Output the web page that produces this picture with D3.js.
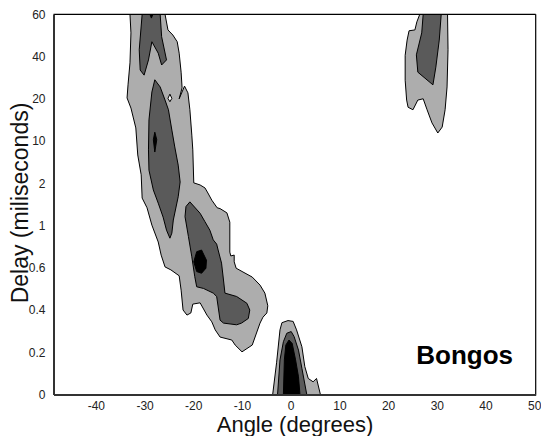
<!DOCTYPE html>
<html>
<head>
<meta charset="utf-8">
<script src="https://cdn.jsdelivr.net/npm/d3@7/dist/d3.min.js"></script>
<style>
  html, body { margin: 0; padding: 0; background: #fff; }
  svg { display: block; font-family: "Liberation Sans", Arial, Helvetica, sans-serif; }
</style>
</head>
<body>
<svg id="chart" width="541" height="436"></svg>
<script>
// Delay axis is categorical: one evenly spaced row per delay value (ms)
const delayLabels = ["0", "0.2", "0.4", "0.6", "1", "2", "10", "20", "40", "60"];
const angleTicks = [-40, -30, -20, -10, 0, 10, 20, 30, 40, 50];

// Contour outlines, points are [angle (deg), delay row index]
// level 1 (light grey)
const bandMainOuter = [[-33.0,9.0],[-25.8,9.0],[-25.2,8.63],[-24.2,8.51],[-23.3,8.35],[-22.9,8.08],[-22.5,7.63],[-22.3,7.26],[-22.9,7.0],[-21.8,7.3],[-21.1,7.14],[-20.7,6.74],[-20.3,6.14],[-20.1,5.79],[-19.9,5.01],[-18.6,4.96],[-17.6,4.89],[-17.0,4.77],[-16.2,4.6],[-15.1,4.42],[-14.5,4.4],[-13.1,4.3],[-12.5,4.08],[-12.5,3.37],[-12.3,3.28],[-11.6,3.3],[-11.6,3.14],[-11.2,2.99],[-9.8,2.9],[-7.9,2.78],[-6.3,2.59],[-5.3,2.4],[-4.7,2.1],[-4.9,1.93],[-5.7,1.83],[-6.3,1.69],[-7.9,1.17],[-10.0,1.01],[-11.4,1.17],[-12.1,1.29],[-14.5,1.36],[-15.5,1.53],[-16.2,1.72],[-17.2,1.88],[-18.6,2.17],[-20.1,2.14],[-20.5,1.93],[-21.3,1.88],[-22.1,2.0],[-22.5,2.47],[-22.9,2.81],[-24.6,2.95],[-25.8,3.02],[-26.6,3.3],[-27.2,3.61],[-28.5,4.01],[-29.5,4.42],[-30.5,4.65],[-30.7,5.2],[-31.4,5.67],[-31.8,6.31],[-32.8,6.78],[-33.6,7.02],[-33.4,7.33],[-33.0,7.85],[-32.8,8.56]];
const bandRightOuter = [[26.5,9.0],[25.9,8.82],[25.5,8.63],[24.3,8.61],[23.9,8.39],[23.5,8.03],[23.5,7.44],[23.8,6.97],[24.1,6.8],[25.1,6.74],[26.1,6.97],[27.2,7.0],[28.0,6.74],[29.0,6.43],[30.2,6.19],[31.1,6.33],[31.7,6.74],[32.1,7.28],[32.3,8.16],[32.2,9.0]];
const peakOuter = [[-3.7,0],[-2.9,0.75],[-2.2,1.53],[-1.8,1.7],[-0.55,1.75],[0.5,1.73],[1.2,1.53],[2.3,1.13],[2.9,0.66],[3.6,0.38],[4.6,0.3],[5.3,0.38],[6.1,0]];
// level 2 (dark grey)
const bandTopInner = [[-30.5,9.0],[-26.8,9.0],[-26.5,8.47],[-25.5,7.92],[-26.5,7.8],[-27.2,8.08],[-28.5,8.35],[-29.2,7.92],[-30.1,7.56],[-30.9,7.68],[-31.1,8.16]];
const bandMidInner = [[-27.9,7.45],[-26.8,7.28],[-25.8,6.97],[-25.1,6.74],[-24.4,6.26],[-23.8,5.86],[-23.1,5.43],[-22.7,5.03],[-23.1,4.68],[-24.1,4.13],[-24.4,3.82],[-24.8,3.7],[-25.5,3.89],[-26.2,4.2],[-27.2,4.53],[-28.2,4.84],[-29.1,5.31],[-29.2,5.79],[-29.1,6.5],[-28.5,7.16]];
const bandLowInner = [[-20.7,4.56],[-18.6,4.29],[-17.6,4.09],[-16.6,3.89],[-15.9,3.66],[-15.2,3.56],[-14.9,3.42],[-14.2,3.11],[-13.8,2.71],[-13.5,2.4],[-11.1,2.32],[-9.0,2.16],[-8.4,2.0],[-8.7,1.8],[-10.1,1.69],[-11.1,1.65],[-13.8,1.69],[-14.5,1.76],[-15.2,2.32],[-15.9,2.4],[-17.9,2.51],[-19.3,2.55],[-19.7,2.79],[-20.3,3.26],[-21.0,3.74],[-21.7,4.21],[-21.5,4.45]];
const bandRightInner = [[27.2,9.0],[26.9,8.56],[25.8,8.04],[26.1,7.63],[29.2,7.33],[29.8,7.75],[30.5,8.39],[30.9,9.0]];
const peakInner = [[-2.7,0],[-2.2,0.82],[-1.5,1.25],[-0.8,1.45],[0.1,1.49],[0.7,1.37],[1.6,1.05],[2.3,0.62],[3.3,0]];
// level 3 (black)
const bandTopCore = [[-28.9,9.0],[-28.3,9.0],[-28.6,8.91]];
const bandMidCore = [[-27.9,6.21],[-27.5,6.03],[-27.9,5.74],[-28.2,6.03]];
const bandLowCore = [[-19.3,3.38],[-18.3,3.42],[-17.3,3.18],[-17.4,2.99],[-18.3,2.87],[-19.3,2.91],[-19.9,3.14]];
const peakCore = [[-1.5,0],[-1.3,0.82],[-1.0,1.17],[-0.35,1.29],[0.3,1.21],[1.0,0.82],[1.6,0.42],[1.9,0]];
// hole (below level 1) inside the main band
const bandHole = [[-24.8,7.11],[-24.4,7.01],[-24.8,6.93],[-25.2,7.01]];

const levels = [
  { fill: "#adadad", shapes: [bandMainOuter, bandRightOuter, peakOuter] },
  { fill: "#5a5a5a", shapes: [bandTopInner, bandMidInner, bandLowInner, bandRightInner, peakInner] },
  { fill: "#000000", shapes: [bandTopCore, bandMidCore, bandLowCore, peakCore] },
  { fill: "#ffffff", shapes: [bandHole] }
];

const svg = d3.select("#chart");
const plotLeft = 53.5, plotRight = 535.7, plotTop = 14.3, plotBottom = 394.5;

const x = d3.scaleLinear().domain([-48.7, 50.3]).range([plotLeft, plotRight]);
const y = d3.scaleLinear().domain([0, delayLabels.length - 1]).range([plotBottom, plotTop]);

svg.append("defs").append("clipPath").attr("id", "plotClip")
  .append("rect").attr("x", plotLeft).attr("y", plotTop)
  .attr("width", plotRight - plotLeft).attr("height", plotBottom - plotTop);

const line = d3.line().x(d => x(d[0])).y(d => y(d[1])).curve(d3.curveLinearClosed);

const plot = svg.append("g").attr("clip-path", "url(#plotClip)");
levels.forEach(level => {
  plot.append("g").selectAll("path").data(level.shapes).join("path")
    .attr("d", line)
    .attr("fill", level.fill)
    .attr("stroke", "#000")
    .attr("stroke-width", 1)
    .attr("stroke-linejoin", "round");
});

// frame: thin top / right, heavier axis lines
svg.append("line").attr("x1", plotLeft).attr("x2", plotRight).attr("y1", plotTop).attr("y2", plotTop)
  .attr("stroke", "#000").attr("stroke-width", 1.2);
svg.append("line").attr("x1", plotRight).attr("x2", plotRight).attr("y1", plotTop).attr("y2", plotBottom)
  .attr("stroke", "#000").attr("stroke-width", 1.2);

const xAxis = svg.append("g").attr("transform", `translate(0,${plotBottom})`)
  .call(d3.axisBottom(x).tickValues(angleTicks).tickFormat(d => String(d))
    .tickSize(0).tickSizeOuter(0).tickPadding(6.5));
const yAxis = svg.append("g").attr("transform", `translate(${plotLeft},0)`)
  .call(d3.axisLeft(y).tickValues(d3.range(delayLabels.length)).tickFormat(i => delayLabels[i])
    .tickSize(0).tickSizeOuter(0).tickPadding(8));

[xAxis, yAxis].forEach(g => {
  g.select(".domain").attr("stroke", "#333").attr("stroke-width", 2);
  g.selectAll("text").attr("font-size", 12).attr("fill", "#222")
    .attr("font-family", "'Liberation Sans', Arial, sans-serif");
});

svg.append("text").attr("x", 295).attr("y", 432).attr("text-anchor", "middle")
  .attr("font-size", 22).attr("fill", "#111").text("Angle (degrees)");
svg.append("text").attr("transform", "translate(28,203) rotate(-90)").attr("text-anchor", "middle")
  .attr("font-size", 23).attr("fill", "#111").text("Delay (miliseconds)");

svg.append("text").attr("x", 513).attr("y", 364).attr("text-anchor", "end")
  .attr("font-size", 26).attr("font-weight", "bold").attr("fill", "#000").text("Bongos");
</script>
</body>
</html>
